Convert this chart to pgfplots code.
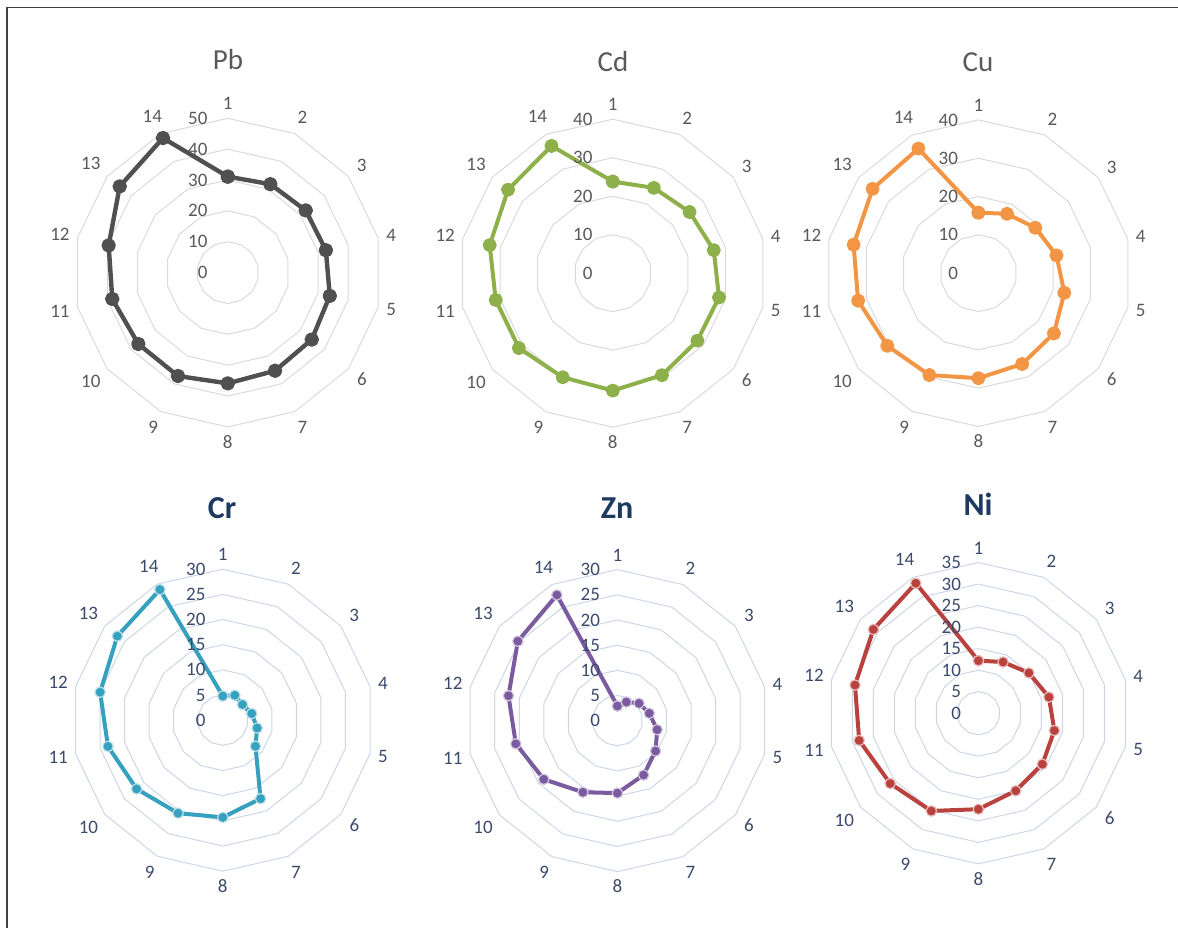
\documentclass[border=0pt]{standalone}
\usepackage{pgfplots}
\pgfplotsset{compat=1.18}
\usepackage{pgfplotstable}
\usepgfplotslibrary{polar}
\usepackage{fontspec}
\setmainfont{Carlito}

\definecolor{cPb}{HTML}{505050}
\definecolor{cCd}{HTML}{8DB04B}
\definecolor{cCu}{HTML}{F29646}
\definecolor{cCr}{HTML}{36A0BF}
\definecolor{cZn}{HTML}{7B5B9F}
\definecolor{cNi}{HTML}{B9413E}
\definecolor{gridTop}{HTML}{DADADA}
\definecolor{gridBot}{HTML}{CDD6E6}
\definecolor{txtTop}{HTML}{595959}
\definecolor{txtBot}{HTML}{3B4A6B}
\definecolor{titBot}{HTML}{1F3A60}
\definecolor{frame}{HTML}{404040}

% angle (category 1 at top, clockwise), values per metal
\pgfplotstableread{
ang      Pb    Cd    Cu    Cr    Zn    Ni
90       31.1  23.8  15.8  4.8   2.9   12.2
64.2857  31.8  24.6  17.2  5.5   4.1   13.2
38.5714  32.3  25.5  19.0  5.0   5.5   15.0
12.8571  32.6  26.9  20.9  5.9   6.5   16.8
347.1429 33.9  28.3  23.0  7.0   8.1   18.1
321.4286 34.8  28.1  25.2  8.3   9.7   19.0
295.7143 35.3  29.4  26.3  17.3  12.0  20.0
270      35.9  30.5  27.4  19.3  14.4  22.3
244.2857 37.2  30.0  29.5  20.5  15.8  25.2
218.5714 37.1  31.2  30.4  21.9  18.7  26.2
192.8571 38.4  31.2  32.2  23.4  20.7  28.4
167.1429 39.6  32.8  33.4  25.0  22.2  29.4
141.4286 44.8  34.8  35.3  26.8  25.3  31.2
115.7143 48.4  36.7  36.1  28.8  27.7  33.5
90       31.1  23.8  15.8  4.8   2.9   12.2
}\data

\newcommand\gridpoly[2]{\addplot[#1, line width=0.5pt, no markers, forget plot] coordinates {(90,#2) (64.2857,#2) (38.5714,#2) (12.8571,#2) (347.1429,#2) (321.4286,#2) (295.7143,#2) (270,#2) (244.2857,#2) (218.5714,#2) (192.8571,#2) (167.1429,#2) (141.4286,#2) (115.7143,#2) (90,#2)};}

\pgfplotsset{
  radar/.style={
    scale only axis, clip=false,
    xmin=0, xmax=360, ymin=0,
    axis line style={draw=none},
    xmajorgrids=false, ymajorgrids=false, xminorgrids=false, yminorgrids=false,
    xtick={12.8571,38.5714,64.2857,90,115.7143,141.4286,167.1429,192.8571,218.5714,244.2857,270,295.7143,321.4286,347.1429},
    xticklabels={4,3,2,1,14,13,12,11,10,9,8,7,6,5},
    ytick=\empty,
    xtick style={draw=none},
    xticklabel style={font=\fontsize{9.5}{11}\selectfont, inner xsep=2.5pt, inner ysep=4pt},
    /pgf/number format/assume math mode=true,
  },
  top/.style={radar, xticklabel style={text=txtTop}},
  bot/.style={radar, xticklabel style={text=txtBot}},
}
\newcommand\ylabs[3]{\pgfplotsinvokeforeach{#1}{\node[anchor=east, inner sep=0pt, xshift=#3, font=\fontsize{9.5}{11}\selectfont, text=#2] at (axis cs:90,##1) {##1};}}

\begin{document}
\begin{tikzpicture}
\useasboundingbox (0pt,0pt) rectangle (589pt,464pt);
\draw[frame, line width=0.7pt] (3.5pt,0pt) -- (3.5pt,460.2pt) -- (589pt,460.2pt);

% ---------- Pb ----------
\node[font=\fontsize{14.5}{16}\selectfont, text=txtTop] at (114pt,434pt) {Pb};
\begin{polaraxis}[top, at={(113.9pt,327.7pt)}, anchor=center, width=154.3pt, height=154.3pt, ymax=50]
\pgfplotsinvokeforeach{10,20,30,40,50}{\gridpoly{gridTop}{#1}}
\addplot[cPb, line width=2.2pt, line join=round, mark=*, mark size=2.5pt, mark options={fill=cPb}] table[x=ang,y=Pb]{\data};
\ylabs{0,10,20,30,40,50}{txtTop}{-10pt}
\end{polaraxis}

% ---------- Cd ----------
\node[font=\fontsize{14.5}{16}\selectfont, text=txtTop] at (306.5pt,433pt) {Cd};
\begin{polaraxis}[top, at={(306.4pt,327.4pt)}, anchor=center, width=154pt, height=154pt, ymax=40]
\pgfplotsinvokeforeach{10,20,30,40}{\gridpoly{gridTop}{#1}}
\addplot[cCd, line width=2pt, line join=round, mark=*, mark size=2.5pt, mark options={fill=cCd}] table[x=ang,y=Cd]{\data};
\ylabs{0,10,20,30,40}{txtTop}{-10pt}
\end{polaraxis}

% ---------- Cu ----------
\node[font=\fontsize{14.5}{16}\selectfont, text=txtTop] at (489pt,433pt) {Cu};
\begin{polaraxis}[top, at={(489.2pt,327.4pt)}, anchor=center, width=153.3pt, height=153.3pt, ymax=40]
\pgfplotsinvokeforeach{10,20,30,40}{\gridpoly{gridTop}{#1}}
\addplot[cCu, line width=2pt, line join=round, mark=*, mark size=2.5pt, mark options={fill=cCu}] table[x=ang,y=Cu]{\data};
\ylabs{0,10,20,30,40}{txtTop}{-10pt}
\end{polaraxis}

% ---------- Cr ----------
\node[font=\bfseries\fontsize{16}{18}\selectfont, text=titBot] at (111pt,210pt) {Cr};
\begin{polaraxis}[bot, at={(111.4pt,103.9pt)}, anchor=center, width=151pt, height=151pt, ymax=30]
\pgfplotsinvokeforeach{5,10,15,20,25,30}{\gridpoly{gridBot}{#1}}
\addplot[cCr, line width=2pt, line join=round, mark=*, mark size=2.6pt, mark options={fill=cCr, draw=white!65!cCr, line width=0.6pt}] table[x=ang,y=Cr]{\data};
\ylabs{0,5,10,15,20,25,30}{txtBot}{-8.5pt}
\end{polaraxis}

% ---------- Zn ----------
\node[font=\bfseries\fontsize{16}{18}\selectfont, text=titBot] at (308.5pt,210pt) {Zn};
\begin{polaraxis}[bot, at={(308.7pt,103.7pt)}, anchor=center, width=151pt, height=151pt, ymax=30]
\pgfplotsinvokeforeach{5,10,15,20,25,30}{\gridpoly{gridBot}{#1}}
\addplot[cZn, line width=2pt, line join=round, mark=*, mark size=2.6pt, mark options={fill=cZn, draw=white!65!cZn, line width=0.6pt}] table[x=ang,y=Zn]{\data};
\ylabs{0,5,10,15,20,25,30}{txtBot}{-8.5pt}
\end{polaraxis}

% ---------- Ni ----------
\node[font=\bfseries\fontsize{16}{18}\selectfont, text=titBot] at (489pt,212pt) {Ni};
\begin{polaraxis}[bot, at={(489.2pt,107.4pt)}, anchor=center, width=150.7pt, height=150.7pt, ymax=35]
\pgfplotsinvokeforeach{5,10,15,20,25,30,35}{\gridpoly{gridBot}{#1}}
\addplot[cNi, line width=2pt, line join=round, mark=*, mark size=2.6pt, mark options={fill=cNi, draw=white!65!cNi, line width=0.6pt}] table[x=ang,y=Ni]{\data};
\ylabs{0,5,10,15,20,25,30,35}{txtBot}{-8.5pt}
\end{polaraxis}
\end{tikzpicture}
\end{document}
